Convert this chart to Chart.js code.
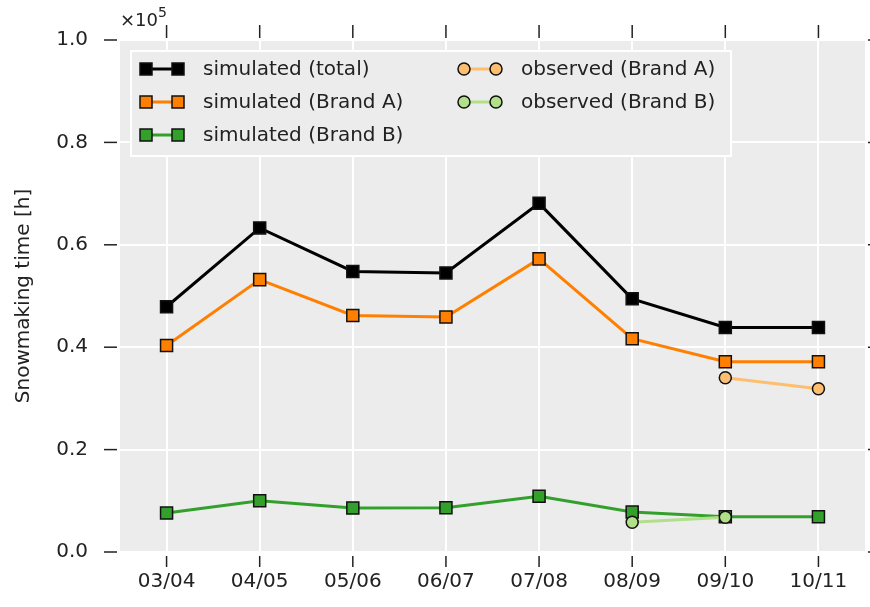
<!DOCTYPE html>
<html>
<head>
<meta charset="utf-8">
<script src="https://cdn.jsdelivr.net/npm/chart.js@4.4.1/dist/chart.umd.min.js"></script>
<style>
  html, body { margin: 0; padding: 0; background: #fff; }
  #wrap { width: 870px; height: 607px; }
</style>
</head>
<body>
<div id="wrap"><canvas id="myChart" width="870" height="607"></canvas></div>
<script>
// data
const seasons = ['03/04', '04/05', '05/06', '06/07', '07/08', '08/09', '09/10', '10/11'];
const simTotal = [47900, 63300, 54800, 54500, 68100, 49450, 43850, 43850];
const simBrandA = [40350, 53200, 46200, 45900, 57250, 41650, 37150, 37150];
const simBrandB = [7600, 10000, 8600, 8650, 10900, 7800, 6900, 6900];
const obsBrandA = [null, null, null, null, null, null, 34050, 31900];
const obsBrandB = [null, null, null, null, null, 5800, 6800, null];
const yTicks = [0, 20000, 40000, 60000, 80000, 100000];

const FONT = "'DejaVu Sans', sans-serif";

function series(label, values, color, fill, style, order) {
  return {
    label: label,
    data: values,
    borderColor: color,
    backgroundColor: fill,
    borderWidth: 3,
    pointStyle: style,
    pointRadius: style === 'rect' ? 8.5 : 6,
    pointHoverRadius: style === 'rect' ? 8.5 : 6,
    pointBackgroundColor: fill,
    pointBorderColor: '#111',
    pointBorderWidth: 1.5,
    tension: 0,
    spanGaps: true,
    order: order
  };
}

const data = {
  labels: seasons,
  datasets: [
    series('simulated (total)', simTotal, '#000000', '#000000', 'rect', 3),
    series('simulated (Brand A)', simBrandA, '#ff7f00', '#ff7f00', 'rect', 4),
    series('simulated (Brand B)', simBrandB, '#33a02c', '#33a02c', 'rect', 5),
    series('observed (Brand A)', obsBrandA, '#fdbf6f', '#fdbf6f', 'circle', 1),
    series('observed (Brand B)', obsBrandB, '#b2df8a', '#b2df8a', 'circle', 2)
  ]
};

// gray plot background
const plotBg = {
  id: 'plotBg',
  beforeDraw(chart) {
    const {ctx, chartArea: a} = chart;
    ctx.save();
    ctx.fillStyle = '#ececec';
    ctx.fillRect(a.left, a.top, a.right - a.left, a.bottom - a.top);
    ctx.restore();
  }
};

// outside tick marks with a small gap + multiplier
const tickMarks = {
  id: 'tickMarks',
  afterDraw(chart) {
    const {ctx, chartArea: a, scales} = chart;
    const line = (x1, y1, x2, y2) => { ctx.beginPath(); ctx.moveTo(x1, y1); ctx.lineTo(x2, y2); ctx.stroke(); };
    ctx.save();
    ctx.strokeStyle = '#222';
    ctx.lineWidth = 1.5;
    scales.y.ticks.forEach((t, i) => {
      const py = scales.y.getPixelForTick(i);
      line(a.left - 16, py, a.left - 3, py);
      line(a.right + 3, py, a.right + 16, py);
    });
    scales.x.ticks.forEach((t, i) => {
      const px = scales.x.getPixelForTick(i);
      line(px, a.top - 15, px, a.top - 2);
      line(px, a.bottom + 4, px, a.bottom + 15);
    });
    ctx.fillStyle = '#222';
    ctx.textBaseline = 'alphabetic';
    ctx.font = '18px ' + FONT;
    ctx.fillText('\u00d710', a.left, 26);
    const w = ctx.measureText('\u00d710').width;
    ctx.font = '14px ' + FONT;
    ctx.fillText('5', a.left + w, 17);
    ctx.restore();
  }
};

// two-column legend inside the plot
const boxLegend = {
  id: 'boxLegend',
  afterDatasetsDraw(chart) {
    const {ctx} = chart;
    const slots = [[140, 69], [140, 102], [140, 135], [458, 69], [458, 102]];
    ctx.save();
    ctx.fillStyle = '#ececec';
    ctx.fillRect(130, 50, 602, 107);
    ctx.strokeStyle = '#ffffff';
    ctx.lineWidth = 2;
    ctx.strokeRect(131, 51, 600, 105);
    chart.data.datasets.forEach((ds, i) => {
      const [x, y] = slots[i];
      ctx.strokeStyle = ds.borderColor;
      ctx.lineWidth = ds.borderWidth;
      ctx.beginPath(); ctx.moveTo(x + 6, y); ctx.lineTo(x + 38, y); ctx.stroke();
      [x + 6, x + 38].forEach(mx => {
        ctx.fillStyle = ds.pointBackgroundColor;
        ctx.strokeStyle = ds.pointBorderColor;
        ctx.lineWidth = ds.pointBorderWidth;
        ctx.beginPath();
        if (ds.pointStyle === 'rect') ctx.rect(mx - 6, y - 6, 12, 12);
        else ctx.arc(mx, y, 6, 0, Math.PI * 2);
        ctx.fill(); ctx.stroke();
      });
      ctx.fillStyle = '#222';
      ctx.font = '20px ' + FONT;
      ctx.textBaseline = 'middle';
      ctx.fillText(ds.label, x + 63, y + 1);
    });
    ctx.restore();
  }
};

const config = {
  type: 'line',
  data,
  options: {
    responsive: false,
    animation: false,
    layout: { autoPadding: false, padding: { left: 0, top: 40, right: 5, bottom: 0 } },
    plugins: { legend: { display: false }, tooltip: { enabled: false } },
    scales: {
      x: {
        offset: true,
        grid: { color: '#ffffff', lineWidth: 2, drawTicks: false, offset: false },
        border: { display: false },
        ticks: { color: '#222', font: { family: FONT, size: 20 }, padding: 18, maxRotation: 0 },
        afterFit: s => { s.height = 55; s.paddingLeft = 0; s.paddingRight = 0; }
      },
      y: {
        min: 0,
        max: 100000,
        afterBuildTicks: s => { s.ticks = yTicks.map(v => ({ value: v })); },
        grid: { color: '#ffffff', lineWidth: 2, drawTicks: false },
        border: { display: false },
        ticks: {
          color: '#222', font: { family: FONT, size: 20 }, padding: 32,
          callback: v => (v / 100000).toFixed(1)
        },
        title: {
          display: true, text: 'Snowmaking time [h]', color: '#222',
          font: { family: FONT, size: 20 }, padding: { top: 12, bottom: 0 }
        },
        afterFit: s => { s.width = 120; s.paddingTop = 0; s.paddingBottom = 0; }
      }
    }
  },
  plugins: [plotBg, boxLegend, tickMarks]
};

const myChart = new Chart(document.getElementById('myChart'), config);
</script>
</body>
</html>
